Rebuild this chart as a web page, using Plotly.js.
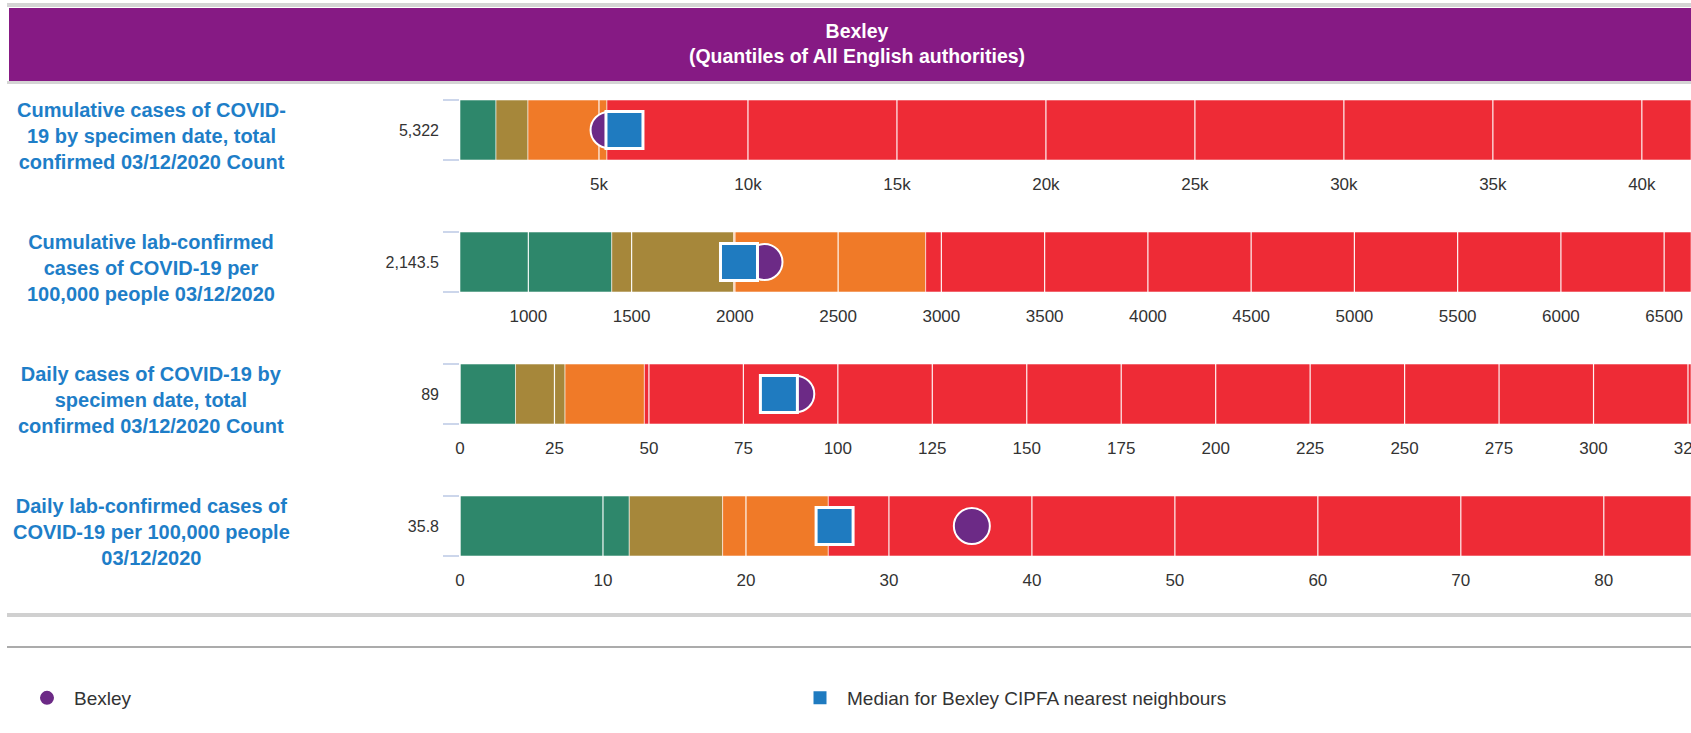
<!DOCTYPE html>
<html>
<head>
<meta charset="utf-8">
<script src="https://cdn.plot.ly/plotly-3.0.1.min.js"></script>
<style>
  html, body { margin: 0; padding: 0; background: #ffffff; overflow: hidden; }
  #chart { width: 1691px; height: 733px; }
</style>
</head>
<body>
<div id="chart"></div>
<script>
// ---------- data ----------
const headerTitle = "Bexley";
const headerSubtitle = "(Quantiles of All English authorities)";
const rowLabels = [
  "Cumulative cases of COVID-<br>19 by specimen date, total<br>confirmed 03/12/2020 Count",
  "Cumulative lab-confirmed<br>cases of COVID-19 per<br>100,000 people 03/12/2020",
  "Daily cases of COVID-19 by<br>specimen date, total<br>confirmed 03/12/2020 Count",
  "Daily lab-confirmed cases of<br>COVID-19 per 100,000 people<br>03/12/2020"
];
const valueLabels = ["5,322", "2,143.5", "89", "35.8"];
const bexleyValues = [5322, 2143.5, 89, 35.8];
const medianValues = [5856, 2020, 84.4, 26.2];
// quantile band boundaries (min, q1, q2, q3, max) per indicator
const bandMin = [336, 669, 0, 0];
const bandQ1 = [1544, 1404, 14.7, 11.84];
const bandQ2 = [2617, 1994, 27.8, 18.37];
const bandQ3 = [5268, 2924, 48.8, 25.76];
const bandMax = [41650, 6630, 325.8, 86.1];
const bandColors = ["#2E876B", "#A6873A", "#F07A28", "#EE2B36"];
// axis ticks per indicator
const tickVals1 = [5000, 10000, 15000, 20000, 25000, 30000, 35000, 40000];
const tickText1 = ["5k", "10k", "15k", "20k", "25k", "30k", "35k", "40k"];
const tickVals2 = [1000, 1500, 2000, 2500, 3000, 3500, 4000, 4500, 5000, 5500, 6000, 6500];
const tickText2 = ["1000", "1500", "2000", "2500", "3000", "3500", "4000", "4500", "5000", "5500", "6000", "6500"];
const tickVals3 = [0, 25, 50, 75, 100, 125, 150, 175, 200, 225, 250, 275, 300, 325];
const tickText3 = ["0", "25", "50", "75", "100", "125", "150", "175", "200", "225", "250", "275", "300", "325"];
const tickVals4 = [0, 10, 20, 30, 40, 50, 60, 70, 80];
const tickText4 = ["0", "10", "20", "30", "40", "50", "60", "70", "80"];
const seriesNames = ["Bexley", "Median for Bexley CIPFA nearest neighbours"];

// ---------- layout geometry ----------
const W = 1691, H = 733;
const FONT = "'Liberation Sans', Arial, Helvetica, sans-serif";
const plotLeft = 460;
const barTops = [100, 232, 364, 496];
const barH = 60;
const yp = v => 1 - v / H;

const tickVals = [tickVals1, tickVals2, tickVals3, tickVals4];
const tickTexts = [tickText1, tickText2, tickText3, tickText4];
const bounds = [bandMin, bandQ1, bandQ2, bandQ3, bandMax];

const traces = [];
const layout = {
  width: W, height: H,
  margin: {l: 0, r: 0, t: 0, b: 0},
  paper_bgcolor: "#ffffff",
  plot_bgcolor: "rgba(0,0,0,0)",
  barmode: "overlay",
  font: {family: FONT, color: "#333333"},
  showlegend: true,
  hovermode: false,
  legend: {
    orientation: "h",
    x: 20 / W, xanchor: "left",
    y: yp(698), yanchor: "middle",
    font: {family: FONT, size: 19, color: "#333333"},
    itemwidth: 44,
    entrywidth: 714, entrywidthmode: "pixels",
    bgcolor: "rgba(0,0,0,0)",
    traceorder: "normal"
  },
  title: {
    text: "<b>" + headerTitle + "</b><br><b>" + headerSubtitle + "</b>",
    x: 857 / W, xanchor: "center",
    y: yp(38), yanchor: "middle",
    xref: "paper", yref: "container",
    font: {family: FONT, size: 19.5, color: "#ffffff"}
  },
  shapes: [
    {type: "rect", xref: "paper", yref: "paper", x0: 7 / W, x1: 1, y0: yp(7), y1: yp(3), fillcolor: "#d4d4d4", line: {width: 0}, layer: "below"},
    {type: "rect", xref: "paper", yref: "paper", x0: 9 / W, x1: 1, y0: yp(81), y1: yp(8), fillcolor: "#861A84", line: {width: 0}, layer: "below"},
    {type: "rect", xref: "paper", yref: "paper", x0: 7 / W, x1: 1, y0: yp(84), y1: yp(81), fillcolor: "#d4d4d4", line: {width: 0}, layer: "below"},
    {type: "rect", xref: "paper", yref: "paper", x0: 7 / W, x1: 1, y0: yp(617), y1: yp(613), fillcolor: "#d0d0d0", line: {width: 0}, layer: "below"},
    {type: "rect", xref: "paper", yref: "paper", x0: 7 / W, x1: 1, y0: yp(648), y1: yp(646), fillcolor: "#ababab", line: {width: 0}, layer: "below"}
  ],
  annotations: []
};

for (let r = 0; r < 4; r++) {
  const k = r + 1;
  const xa = "x" + (k === 1 ? "" : k);
  const ya = "y" + (k === 1 ? "" : k);
  const xKey = "xaxis" + (k === 1 ? "" : k);
  const yKey = "yaxis" + (k === 1 ? "" : k);

  // quantile band segments
  for (let b = 0; b < 4; b++) {
    const start = bounds[b][r], end = bounds[b + 1][r];
    traces.push({
      type: "bar", orientation: "h",
      x: [end - start], base: [start], y: [0], width: [1],
      xaxis: xa, yaxis: ya,
      marker: {color: bandColors[b], line: {color: "rgba(255,255,255,0.55)", width: 1}},
      showlegend: false, hoverinfo: "skip"
    });
  }
  // white grid lines drawn over the bands (below the markers)
  const gx = [], gy = [];
  tickVals[r].forEach(v => { gx.push(v, v, null); gy.push(-0.5, 0.5, null); });
  traces.push({
    type: "scatter", mode: "lines", x: gx, y: gy, xaxis: xa, yaxis: ya,
    line: {color: "rgba(255,255,255,0.95)", width: 1.2},
    showlegend: false, hoverinfo: "skip", cliponaxis: true
  });
  // Bexley value
  traces.push({
    type: "scatter", mode: "markers", name: seriesNames[0], legendgroup: "bexley",
    x: [bexleyValues[r]], y: [0], xaxis: xa, yaxis: ya,
    marker: {symbol: "circle", size: 36, color: "#6C2A86", line: {color: "#ffffff", width: 2}},
    showlegend: r === 0, cliponaxis: false
  });
  // Median of nearest neighbours
  traces.push({
    type: "scatter", mode: "markers", name: seriesNames[1], legendgroup: "median",
    x: [medianValues[r]], y: [0], xaxis: xa, yaxis: ya,
    marker: {symbol: "square", size: 37, color: "#1F7BC0", line: {color: "#ffffff", width: 3}},
    showlegend: r === 0, cliponaxis: false
  });

  layout[xKey] = {
    domain: [plotLeft / W, 1],
    range: [bandMin[r], bandMax[r]],
    anchor: ya,
    tickmode: "array", tickvals: tickVals[r], ticktext: tickTexts[r],
    ticks: "", showgrid: false, zeroline: false, showline: false,
    tickfont: {family: FONT, size: 17, color: "#333333"},
    ticklabelstandoff: 12,
    ticklabeloverflow: "allow",
    fixedrange: true
  };
  layout[yKey] = {
    domain: [yp(barTops[r] + barH), yp(barTops[r])],
    range: [-0.5, 0.5],
    anchor: xa,
    tickmode: "array", tickvals: [0], ticktext: [valueLabels[r]],
    ticks: "", showgrid: false, zeroline: false, showline: false,
    tickfont: {family: FONT, size: 16, color: "#333333"},
    ticklabelstandoff: 20,
    minor: {tickmode: "array", tickvals: [-0.5, 0.5], ticks: "outside", ticklen: 16, tickwidth: 1.5, tickcolor: "#ccd6eb", showgrid: false},
    fixedrange: true
  };
  layout.annotations.push({
    xref: "paper", yref: "paper",
    x: 151 / W, y: yp(barTops[r] + barH / 2 + 6),
    xanchor: "center", yanchor: "middle",
    text: "<b>" + rowLabels[r] + "</b>",
    showarrow: false, align: "center",
    font: {family: FONT, size: 20, color: "#1E7EC8"}
  });
}

Plotly.newPlot("chart", traces, layout, {displayModeBar: false, staticPlot: true});
</script>
</body>
</html>
